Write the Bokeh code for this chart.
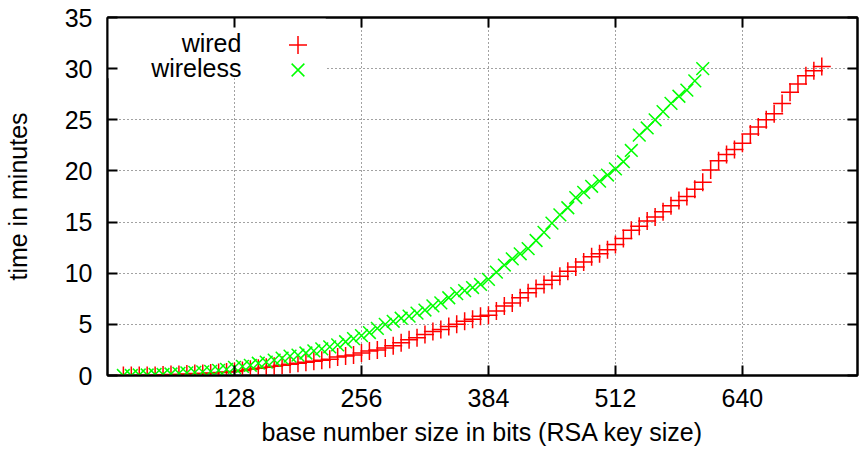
from bokeh.plotting import figure
from bokeh.models import (Range1d, FixedTicker, LinearAxis, Label, BoxAnnotation,
                          Legend, LegendItem, ColumnDataSource, CustomLabelingPolicy)
from bokeh.embed import file_html
from bokeh.resources import INLINE

wired_bits = [16, 24, 32, 40, 48, 56, 64, 72, 80, 88,
              96, 104, 112, 120, 128, 136, 144, 152, 160, 168,
              176, 184, 192, 200, 208, 216, 224, 232, 240, 248,
              256, 264, 272, 280, 288, 296, 304, 312, 320, 328,
              336, 344, 352, 360, 368, 376, 384, 392, 400, 408,
              416, 424, 432, 440, 448, 456, 464, 472, 480, 488,
              496, 504, 512, 520, 528, 536, 544, 552, 560, 568,
              576, 584, 592, 600, 608, 616, 624, 632, 640, 648,
              656, 664, 672, 680, 688, 696, 704, 712, 720]
wired_min = [0.0, 0.0, 0.0, 0.0, 0.0, 0.05, 0.1, 0.1, 0.15, 0.2,
             0.2, 0.25, 0.3, 0.35, 0.4, 0.5, 0.6, 0.7, 0.8, 0.9,
             1.0, 1.1, 1.2, 1.3, 1.4, 1.5, 1.6, 1.8, 1.9, 2.0,
             2.2, 2.4, 2.5, 2.7, 2.9, 3.2, 3.5, 3.7, 4.0, 4.3,
             4.5, 4.8, 5.0, 5.3, 5.5, 5.8, 5.9, 6.3, 6.8, 7.1,
             7.6, 8.1, 8.5, 8.9, 9.3, 9.7, 10.2, 10.6, 11.1, 11.6,
             11.9, 12.3, 12.8, 13.4, 14.2, 14.6, 15.1, 15.5, 16.0, 16.6,
             17.1, 17.5, 18.2, 18.9, 20.1, 21.0, 21.6, 22.1, 22.7, 23.6,
             24.3, 25.0, 25.6, 26.6, 27.7, 28.5, 29.3, 29.8, 30.2]

wireless_bits = [16, 24, 32, 40, 48, 56, 64, 72, 80, 88,
                 96, 104, 112, 120, 128, 136, 144, 152, 160, 168,
                 176, 184, 192, 200, 208, 216, 224, 232, 240, 248,
                 256, 264, 272, 280, 288, 296, 304, 312, 320, 328,
                 336, 344, 352, 360, 368, 376, 384, 392, 400, 408,
                 416, 424, 432, 440, 448, 456, 464, 472, 480, 488,
                 496, 504, 512, 520, 528, 536, 544, 552, 560, 568,
                 576, 584, 592, 600]
wireless_min = [0.0, 0.0, 0.05, 0.05, 0.1, 0.1, 0.15, 0.2, 0.25, 0.3,
                0.35, 0.4, 0.5, 0.6, 0.8, 0.9, 1.0, 1.2, 1.3, 1.5,
                1.7, 1.9, 2.0, 2.2, 2.4, 2.6, 2.8, 3.0, 3.3, 3.6,
                3.9, 4.2, 4.6, 5.0, 5.3, 5.6, 5.8, 6.1, 6.4, 6.8,
                7.1, 7.6, 8.0, 8.3, 8.6, 8.9, 9.4, 10.1, 10.8, 11.4,
                11.9, 12.4, 13.2, 14.0, 14.9, 15.7, 16.4, 17.4, 17.9, 18.5,
                19.0, 19.6, 20.2, 20.9, 22.0, 23.5, 24.2, 25.0, 25.8, 26.6,
                27.3, 27.9, 28.8, 30.0]

x_ticks = [128, 256, 384, 512, 640]
y_ticks = [0, 5, 10, 15, 20, 25, 30, 35]
series_names = ["wired", "wireless"]

FONT = "Liberation Sans"
FS = "25px"

p = figure(width=864, height=450, output_backend="svg", toolbar_location=None,
           x_range=Range1d(0, 756), y_range=Range1d(0, 35),
           min_border_left=106, min_border_right=7, min_border_top=17, min_border_bottom=75)
p.background_fill_color = "white"
p.border_fill_color = "white"
p.outline_line_color = "black"
p.outline_line_width = 2

# grids
p.xgrid.ticker = FixedTicker(ticks=x_ticks)
p.ygrid.ticker = FixedTicker(ticks=y_ticks[1:-1])
for g in (p.xgrid, p.ygrid):
    g.grid_line_color = "#444444"
    g.grid_line_dash = "1 3"
    g.grid_line_width = 1

# white key box covering grid
p.add_layout(BoxAnnotation(left=0, right=220, bottom=29.05, top=35,
                           fill_color="white", fill_alpha=1.0, line_color=None,
                           level="underlay"))

no_labels = CustomLabelingPolicy(code="for (const i of indices) indices.unset(i)")

def style_axis(ax, labels=True):
    ax.major_tick_in = 10
    ax.major_tick_out = 0
    ax.minor_tick_in = 0
    ax.minor_tick_out = 0
    ax.major_tick_line_color = "black"
    ax.major_tick_line_width = 2
    ax.axis_line_color = "black"
    ax.axis_line_width = 2
    ax.major_label_text_font = FONT
    ax.major_label_text_font_size = FS
    ax.major_label_text_color = "black"
    ax.axis_label_text_font = FONT
    ax.axis_label_text_font_size = FS
    ax.axis_label_text_font_style = "normal"
    ax.axis_label_text_color = "black"
    if not labels:
        ax.major_label_policy = no_labels
        ax.major_label_standoff = 0
        ax.major_label_text_font_size = "1px"

xa = p.xaxis[0]
xa.ticker = FixedTicker(ticks=x_ticks)
xa.axis_label = "base number size in bits (RSA key size)"
style_axis(xa)
xa.major_label_standoff = 13
xa.axis_label_standoff = 8

ya = p.yaxis[0]
ya.ticker = FixedTicker(ticks=y_ticks)
ya.axis_label = "time in minutes"
style_axis(ya)
ya.major_label_standoff = 15
ya.axis_label_standoff = 30

top = LinearAxis(ticker=FixedTicker(ticks=x_ticks))
style_axis(top, labels=False)
p.add_layout(top, "above")
right = LinearAxis(ticker=FixedTicker(ticks=y_ticks))
style_axis(right, labels=False)
p.add_layout(right, "right")

src_w = ColumnDataSource(dict(x=wired_bits, y=wired_min))
src_l = ColumnDataSource(dict(x=wireless_bits, y=wireless_min))
r_w = p.scatter("x", "y", source=src_w, marker="cross", size=18,
                line_color="#ff0000", line_width=1.5)
r_l = p.scatter("x", "y", source=src_l, marker="x", size=18,
                line_color="#00ff00", line_width=1.5)

# key: glyphs via legends, text via labels (right-aligned like gnuplot)
for r, loc in ((r_w, (168, 308)), (r_l, (168, 283))):
    lg = Legend(items=[LegendItem(label=" ", renderers=[r])], location=loc,
                glyph_width=45, glyph_height=45, label_width=0, label_height=0,
                label_standoff=0, padding=0, margin=0, spacing=0,
                label_text_font_size=FS,
                background_fill_alpha=0, border_line_color=None)
    p.add_layout(lg)

for name, yv in zip(series_names, (32.55, 30.1)):
    p.add_layout(Label(x=135, y=yv, text=name, text_align="right",
                       text_baseline="middle", text_font=FONT,
                       text_font_size=FS, text_color="black"))

open("out.html", "w").write(file_html(p, INLINE))
